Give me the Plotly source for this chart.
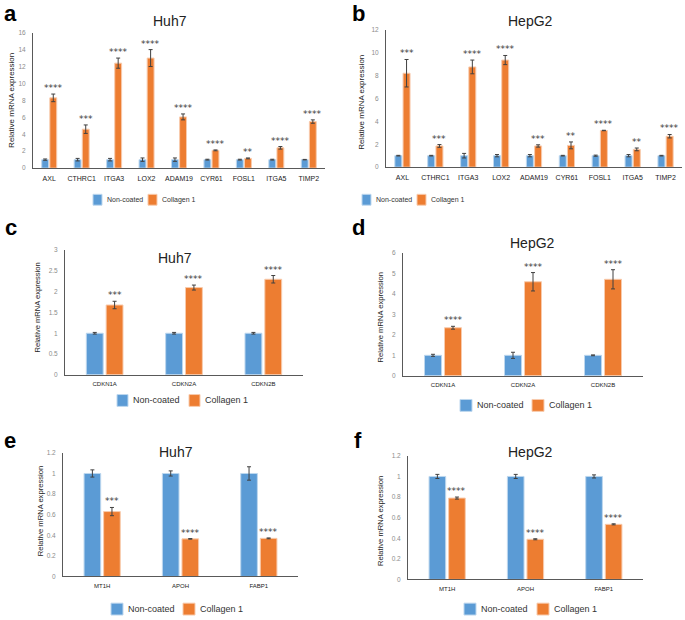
import plotly.graph_objects as go

# ---------------- data ----------------
genes_ab = ["AXL", "CTHRC1", "ITGA3", "LOX2", "ADAM19", "CYR61", "FOSL1", "ITGA5", "TIMP2"]
genes_cd = ["CDKN1A", "CDKN2A", "CDKN2B"]
genes_ef = ["MT1H", "APOH", "FABP1"]
series_names = ["Non-coated", "Collagen 1"]

a_ctrl = [1, 1, 1, 1, 1, 1, 1, 1, 1]
a_ctrl_err = [0.08, 0.15, 0.15, 0.2, 0.2, 0.05, 0.05, 0.05, 0.03]
a_col = [8.3, 4.6, 12.4, 13.0, 6.05, 2.1, 1.15, 2.4, 5.5]
a_col_err = [0.45, 0.5, 0.6, 1.0, 0.35, 0.05, 0.05, 0.15, 0.2]
a_stars = ["****", "***", "****", "****", "****", "****", "**", "****", "****"]

b_ctrl = [1, 1, 1, 1, 1, 1, 1, 1, 1]
b_ctrl_err = [0.03, 0.03, 0.2, 0.1, 0.1, 0.03, 0.05, 0.1, 0.03]
b_col = [8.2, 1.85, 8.75, 9.35, 1.85, 1.9, 3.2, 1.55, 2.7]
b_col_err = [1.2, 0.12, 0.6, 0.4, 0.1, 0.3, 0.02, 0.12, 0.15]
b_stars = ["***", "***", "****", "****", "***", "**", "****", "**", "****"]

c_ctrl = [1, 1, 1]
c_ctrl_err = [0.02, 0.02, 0.02]
c_col = [1.68, 2.1, 2.3]
c_col_err = [0.09, 0.06, 0.09]
c_stars = ["***", "****", "****"]

d_ctrl = [1, 1, 1]
d_ctrl_err = [0.05, 0.15, 0.02]
d_col = [2.35, 4.6, 4.72]
d_col_err = [0.07, 0.45, 0.47]
d_stars = ["****", "****", "****"]

e_ctrl = [1, 1, 1]
e_ctrl_err = [0.035, 0.025, 0.065]
e_col = [0.63, 0.365, 0.37]
e_col_err = [0.04, 0.003, 0.004]
e_stars = ["***", "****", "****"]

f_ctrl = [1, 1, 1]
f_ctrl_err = [0.02, 0.02, 0.015]
f_col = [0.79, 0.39, 0.535]
f_col_err = [0.01, 0.005, 0.005]
f_stars = ["****", "****", "****"]

# ---------------- style ----------------
W, H = 685, 620
BLUE, ORANGE = "#5B9BD5", "#ED7D31"
FONT = "Liberation Sans, Arial, sans-serif"
STAR_FONT = "DejaVu Sans, sans-serif"
BARGAP, GROUPGAP = 0.5, 0.15


def px(xp):
    return xp / W


def py(yp):
    return 1 - yp / H


panels = [
    dict(letter="a", title="Huh7", cats=genes_ab, ctrl=a_ctrl, ce=a_ctrl_err, col=a_col, oe=a_col_err,
         stars=a_stars, ymax=16, dtick=2, xd=(33, 325), yd=(166, 29), tpos=(170, 17),
         leg=dict(y=198, sw=(9, 11), xs=(93, 148), fs=7), ytpos=(12, 98), ytfs=8,
         lt=(2, 10), cfs=7),
    dict(letter="b", title="HepG2", cats=genes_ab, ctrl=b_ctrl, ce=b_ctrl_err, col=b_col, oe=b_col_err,
         stars=b_stars, ymax=12, dtick=2, xd=(386, 682), yd=(165, 26), tpos=(530, 17),
         leg=dict(y=198, sw=(9, 11), xs=(362, 417), fs=7), ytpos=(362, 100), ytfs=8,
         lt=(350, 10), cfs=7),
    dict(letter="c", title="Huh7", cats=genes_cd, ctrl=c_ctrl, ce=c_ctrl_err, col=c_col, oe=c_col_err,
         stars=c_stars, ymax=3, dtick=0.5, xd=(65, 303), yd=(375, 249), tpos=(175, 257),
         leg=dict(y=401, sw=(11, 12), xs=(117, 189), fs=9), ytpos=(38, 307), ytfs=7.6,
         lt=(3, 226), cfs=6),
    dict(letter="d", title="HepG2", cats=genes_cd, ctrl=d_ctrl, ce=d_ctrl_err, col=d_col, oe=d_col_err,
         stars=d_stars, ymax=6, dtick=1, xd=(403, 643), yd=(376, 252), tpos=(532, 242),
         leg=dict(y=406, sw=(12, 12), xs=(460, 532), fs=9), ytpos=(380, 317), ytfs=7.6,
         lt=(350, 226), cfs=6),
    dict(letter="e", title="Huh7", cats=genes_ef, ctrl=e_ctrl, ce=e_ctrl_err, col=e_col, oe=e_col_err,
         stars=e_stars, ymax=1.2, dtick=0.2, xd=(63, 298), yd=(579, 454), tpos=(176, 453),
         leg=dict(y=612, sw=(12, 12), xs=(111, 183), fs=9), ytpos=(40, 513), ytfs=7.6,
         lt=(2, 441), cfs=6),
    dict(letter="f", title="HepG2", cats=genes_ef, ctrl=f_ctrl, ce=f_ctrl_err, col=f_col, oe=f_col_err,
         stars=f_stars, ymax=1.2, dtick=0.2, xd=(408, 643), yd=(582, 457), tpos=(530, 453),
         leg=dict(y=612, sw=(12, 12), xs=(464, 537), fs=9), ytpos=(380, 523), ytfs=7.6,
         lt=(352, 441), cfs=6),
]

fig = go.Figure()
annotations = []
shapes = []
layout = dict(
    width=W, height=H, margin=dict(l=0, r=0, t=0, b=0),
    paper_bgcolor="white", plot_bgcolor="white",
    barmode="group", bargap=BARGAP, bargroupgap=GROUPGAP, showlegend=False,
    font=dict(family=FONT, color="#222"),
)
colors = [BLUE, ORANGE]
edge_colors = ["#BDD7EE", "#F8CBAD"]

for i, p in enumerate(panels):
    n = i + 1
    xa = "x" if n == 1 else f"x{n}"
    ya = "y" if n == 1 else f"y{n}"
    err_style = dict(type="data", thickness=1, width=2, color="#404040", visible=True)
    for name, vals, errs, c, ec in zip(series_names, [p["ctrl"], p["col"]], [p["ce"], p["oe"]],
                                       colors, edge_colors):
        fig.add_trace(go.Bar(
            x=p["cats"], y=vals, name=name, xaxis=xa, yaxis=ya,
            marker=dict(color=c, line=dict(color=ec, width=1)),
            error_y=dict(array=errs, **err_style),
        ))

    x0, x1 = p["xd"]
    ybot, ytop = p["yd"]
    ncat = len(p["cats"])
    layout[f"xaxis{'' if n == 1 else n}"] = dict(
        domain=[px(x0), px(x1)], anchor=ya, type="category",
        range=[-0.5, ncat - 0.5], showline=True, linecolor="#595959", linewidth=1,
        ticks="", showgrid=False, zeroline=False, ticklabelstandoff=3,
        tickfont=dict(size=p["cfs"], color="#222", family=FONT),
    )
    layout[f"yaxis{'' if n == 1 else n}"] = dict(
        domain=[py(ybot), py(ytop)], anchor=xa, range=[0, p["ymax"]], dtick=p["dtick"],
        showline=True, linecolor="#595959", linewidth=1, ticks="", showgrid=False,
        zeroline=False, tickfont=dict(size=6.5, color="#8c8c8c", family=FONT),
        ticklabelstandoff=5,
    )

    # significance stars above the collagen error bars (collagen bar center)
    shift = (x1 - x0) / ncat * ((1 - BARGAP) / 4)
    for cat, v, e, s in zip(p["cats"], p["col"], p["oe"], p["stars"]):
        annotations.append(dict(
            x=cat, y=v + e, xref=xa, yref=ya, text=s, showarrow=False,
            xanchor="center", yanchor="bottom", xshift=shift, yshift=-1,
            font=dict(size=9, color="#3a3a3a", family=STAR_FONT),
        ))

    # title
    annotations.append(dict(
        x=px(p["tpos"][0]), y=py(p["tpos"][1]), xref="paper", yref="paper",
        text=p["title"], showarrow=False, xanchor="center", yanchor="middle",
        font=dict(size=14, color="#222", family=FONT),
    ))
    # y-axis title
    annotations.append(dict(
        x=px(p["ytpos"][0]), y=py(p["ytpos"][1]), xref="paper", yref="paper",
        text="Relative mRNA expression", showarrow=False, textangle=-90,
        xanchor="center", yanchor="middle",
        font=dict(size=p["ytfs"], color="#222", family=FONT),
    ))
    # panel letter
    annotations.append(dict(
        x=px(p["lt"][0]), y=py(p["lt"][1]), xref="paper", yref="paper",
        text=f"<b>{p['letter']}</b>", showarrow=False, xanchor="left", yanchor="middle",
        font=dict(size=22, color="#000", family=FONT),
    ))
    # legend (swatch + label per series)
    lg = p["leg"]
    sw, sh = lg["sw"]
    for name, c, ec, lx in zip(series_names, colors, edge_colors, lg["xs"]):
        shapes.append(dict(
            type="rect", xref="paper", yref="paper",
            x0=px(lx), x1=px(lx + sw), y0=py(lg["y"] + sh / 2), y1=py(lg["y"] - sh / 2),
            fillcolor=c, line=dict(color=ec, width=1),
        ))
        annotations.append(dict(
            x=px(lx + sw + 3), y=py(lg["y"]), xref="paper", yref="paper",
            text=name, showarrow=False, xanchor="left", yanchor="middle",
            font=dict(size=lg["fs"], color="#333", family=FONT),
        ))

layout["annotations"] = annotations
layout["shapes"] = shapes
fig.update_layout(**layout)
fig.write_html("out.html", config={"displayModeBar": False},
               post_script="document.body.style.margin='0px';")
